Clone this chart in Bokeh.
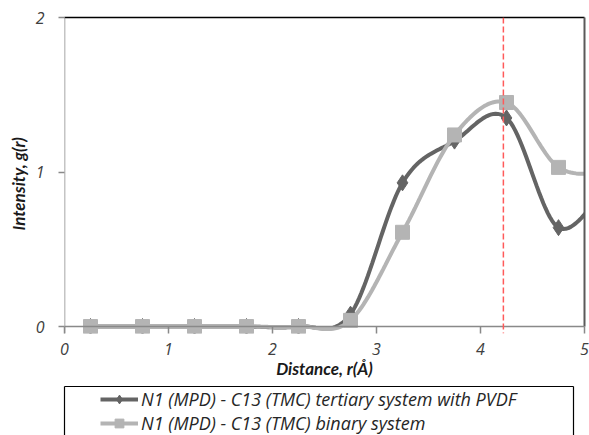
from bokeh.plotting import figure
from bokeh.layouts import column
from bokeh.models import (LinearAxis, FixedTicker, Range1d, Span, Legend, LegendItem,
                          Title)
from bokeh.embed import file_html
from bokeh.resources import INLINE
import numpy as np

# ---- data ----
r_values = [0.25, 0.75, 1.25, 1.75, 2.25, 2.75, 3.25, 3.75, 4.25, 4.75, 5.25]
tertiary = [0.0, 0.0, 0.0, 0.0, 0.0, 0.08, 0.93, 1.20, 1.35, 0.64, 0.95]
binary = [0.0, 0.0, 0.0, 0.0, 0.0, 0.04, 0.61, 1.24, 1.45, 1.03, 1.00]
tertiary_label = "N1 (MPD) - C13 (TMC) tertiary system with PVDF"
binary_label = "N1 (MPD) - C13 (TMC) binary system"
x_title = "Distance, r(Å)"
y_title = "Intensity, g(r)"
x_ticks = [0, 1, 2, 3, 4, 5]
y_ticks = [0, 1, 2]
marker_line_r = 4.22

FONT = "Open Sans"
TITLE_FONT = "Lato"
DARK = "#646464"
LIGHT = "#b4b4b4"
AXIS = "#898989"


def smooth(xs, ys, steps=24):
    """Excel-like smoothed line: Catmull-Rom control points -> cubic Bezier."""
    xs = np.asarray(xs, float)
    ys = np.asarray(ys, float)
    n = len(xs)
    ox, oy = [], []
    for i in range(n - 1):
        p0 = i - 1 if i > 0 else i
        p3 = i + 2 if i + 2 < n else i + 1
        c1x = xs[i] + (xs[i + 1] - xs[p0]) / 6
        c1y = ys[i] + (ys[i + 1] - ys[p0]) / 6
        c2x = xs[i + 1] - (xs[p3] - xs[i]) / 6
        c2y = ys[i + 1] - (ys[p3] - ys[i]) / 6
        t = np.linspace(0, 1, steps, endpoint=(i == n - 2))
        a = (1 - t) ** 3
        b = 3 * (1 - t) ** 2 * t
        c = 3 * (1 - t) * t ** 2
        d = t ** 3
        ox.extend(a * xs[i] + b * c1x + c * c2x + d * xs[i + 1])
        oy.extend(a * ys[i] + b * c1y + c * c2y + d * ys[i + 1])
    return ox, oy


def frame_axis(color, width, bounds=None):
    ax = LinearAxis(ticker=FixedTicker(ticks=[]), axis_line_color=color,
                    axis_line_width=width, major_tick_line_color=None,
                    minor_tick_line_color=None, major_label_text_font_size="0px",
                    major_tick_out=0, major_tick_in=0, major_label_standoff=0)
    if bounds is not None:
        ax.bounds = bounds
    return ax


tx, ty = smooth(r_values, tertiary)
bx, by = smooth(r_values, binary)

# ---------------- main chart ----------------
p = figure(width=589, height=385, output_backend="svg", toolbar_location=None,
           x_range=Range1d(0, 5), y_range=Range1d(-0.045, 2),
           x_axis_location=None, y_axis_location=None,
           min_border_left=64, min_border_right=5, min_border_top=17, min_border_bottom=52)
p.outline_line_color = None
p.xgrid.visible = False
p.ygrid.visible = False

xaxis = LinearAxis(ticker=FixedTicker(ticks=x_ticks), axis_label=x_title)
yaxis = LinearAxis(ticker=FixedTicker(ticks=y_ticks), bounds=(0, 2))
for ax in (xaxis, yaxis):
    ax.axis_line_color = None
    ax.major_tick_line_color = AXIS
    ax.major_tick_line_width = 1.5
    ax.minor_tick_line_color = None
    ax.major_label_text_font = FONT
    ax.major_label_text_font_style = "italic"
    ax.major_label_text_font_size = "16px"
    ax.major_label_text_color = "#404040"
    ax.axis_label_text_font = TITLE_FONT
    ax.axis_label_text_font_style = "bold italic"
    ax.axis_label_text_font_size = "17px"
    ax.axis_label_text_color = "#1a1a1a"
xaxis.major_tick_in = 7
xaxis.major_tick_out = 0
xaxis.major_label_standoff = 9
xaxis.axis_label_standoff = 0
yaxis.major_tick_in = 0
yaxis.major_tick_out = 6
yaxis.major_label_standoff = 14
p.add_layout(xaxis, "below")
p.add_layout(yaxis, "left")
p.add_layout(Title(text=y_title, align="left", offset=103, vertical_align="middle",
                   text_font=TITLE_FONT, text_font_style="bold italic",
                   text_font_size="17px", text_color="#1a1a1a", standoff=6), "left")
p.add_layout(frame_axis("black", 1.5), "above")
p.add_layout(frame_axis("#5a5a5a", 2, bounds=(0, 2)), "right")

# axis lines: g(r) = 0 and r = 0
p.add_layout(Span(location=0, dimension="width", line_color=AXIS, line_width=1.5))
p.add_layout(Span(location=0, dimension="height", line_color=AXIS, line_width=1.5))
# reference distance
p.add_layout(Span(location=marker_line_r, dimension="height", line_color="#ff5a5a",
                  line_width=1.5, line_dash="6 3"))

p.line(tx, ty, line_color=DARK, line_width=4)
p.scatter(r_values, tertiary, marker="diamond", size=16, fill_color=DARK, line_color=DARK)
p.line(bx, by, line_color=LIGHT, line_width=4)
p.scatter(r_values, binary, marker="square", size=14, fill_color=LIGHT, line_color=LIGHT)

# ---------------- legend box ----------------
lg = figure(width=578, height=50, output_backend="svg", toolbar_location=None,
            x_range=Range1d(100, 101), y_range=Range1d(100, 101),
            x_axis_location=None, y_axis_location=None,
            min_border_left=61, min_border_right=5, min_border_top=1, min_border_bottom=0)
lg.outline_line_color = None
lg.xgrid.visible = False
lg.ygrid.visible = False
lg.add_layout(frame_axis("black", 1.2), "above")
lg.add_layout(frame_axis("black", 1.2), "left")
lg.add_layout(frame_axis("black", 1.2), "right")

# series drawn off-view here; only their legend glyphs show
lt_line = lg.line(tx, ty, line_color=DARK, line_width=4)
lt_mark = lg.scatter(r_values, tertiary, marker="diamond", size=12, fill_color=DARK,
                     line_color=DARK)
lb_line = lg.line(bx, by, line_color=LIGHT, line_width=4)
lb_mark = lg.scatter(r_values, binary, marker="square", size=12, fill_color=LIGHT,
                     line_color=LIGHT)

legend = Legend(items=[LegendItem(label=tertiary_label, renderers=[lt_line, lt_mark]),
                       LegendItem(label=binary_label, renderers=[lb_line, lb_mark])],
                location=(36, 0), padding=0, margin=0, spacing=0,
                glyph_width=38, glyph_height=22, label_height=22, label_standoff=3,
                border_line_color=None, background_fill_alpha=0,
                label_text_font=FONT, label_text_font_style="italic",
                label_text_font_size="18px", label_text_color="#262626")
lg.add_layout(legend)

layout = column(p, lg, spacing=0)
open("out.html", "w").write(file_html(layout, INLINE))
